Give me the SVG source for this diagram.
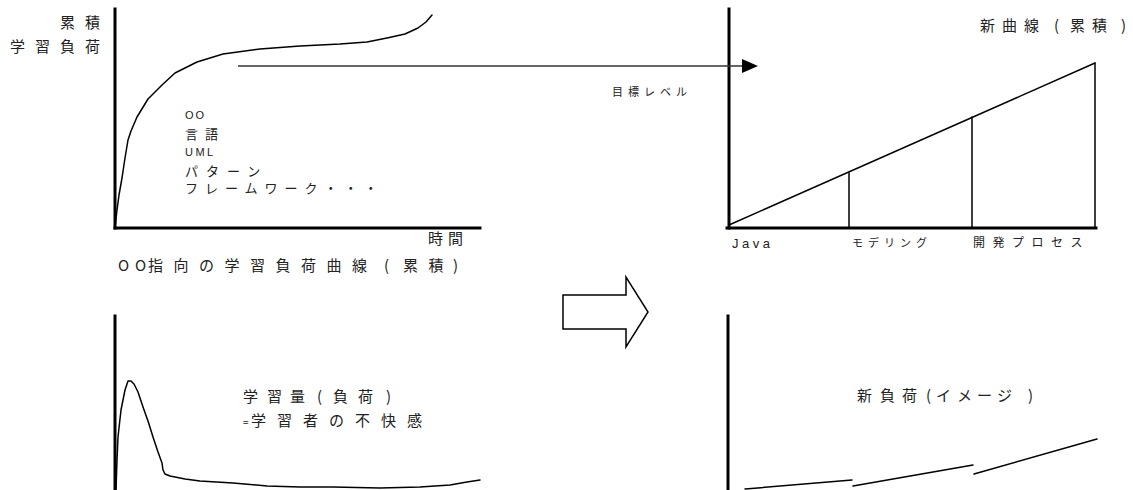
<svg xmlns="http://www.w3.org/2000/svg" width="1133" height="490" viewBox="0 0 1133 490">
<style>
.ax{stroke:#000;stroke-width:3;fill:none;stroke-linecap:square}
.ln{stroke:#000;stroke-width:1.5;fill:none;stroke-linejoin:round;stroke-linecap:round}
.jp{font-family:"Noto Sans CJK JP","Noto Sans",sans-serif;fill:#222}
.lat{font-family:"Liberation Sans","Noto Sans",sans-serif;fill:#222}
</style>
<defs>
<marker id="ah" markerWidth="16" markerHeight="14" refX="0" refY="7" orient="auto" markerUnits="userSpaceOnUse">
<path d="M0,0 L16,7 L0,14 Z" fill="#000"/>
</marker>
</defs>
<rect width="1133" height="490" fill="#fff"/>

<g id="chart-cumulative">
<line class="ax" x1="115" y1="9" x2="115" y2="228"/>
<line class="ax" x1="115" y1="228" x2="480" y2="228"/>
<polyline class="ln" points="115,228 117,210 119,195 122,178 125,158 128,140 131,131 137,117 148,99 162,85 175,73 197,62 223,54 260,49 300,46 340,44 367,42 387,38 405,34 418,28 426,22 432,15"/>
<text class="jp" x="60" y="28" font-size="15" letter-spacing="10">累積</text>
<text class="jp" x="10" y="52" font-size="15" letter-spacing="10">学習負荷</text>
<text class="lat" x="185" y="119" font-size="11" letter-spacing="2">OO</text>
<text class="jp" x="185" y="139" font-size="13" letter-spacing="7">言語</text>
<text class="lat" x="185" y="156" font-size="11" letter-spacing="2.5">UML</text>
<text class="jp" x="185" y="176" font-size="13" letter-spacing="8">パターン</text>
<text class="jp" x="185" y="193" font-size="13" letter-spacing="7">フレームワーク・・・</text>
<text class="jp" x="428" y="244" font-size="15" letter-spacing="5">時間</text>
<text class="jp" x="118 135 148 173.5 199 224.5 250 275.5 301 326.5 352 384 403 428.5 453" y="271" font-size="15">OO指向の学習負荷曲線(累積)</text>
</g>

<g id="chart-load">
<line class="ax" x1="115" y1="316" x2="115" y2="490"/>
<polyline class="ln" points="116,490 117,460 118,437 121,410 125,390 128,381 131,381 134,384 138,392 143,407 148,421 153,437 158,452 162,463 163,470 165,474 170,476 185,479 200,481 233,483 267,486 300,487 333,487 380,488 420,487 450,485 467,482 480,480"/>
<text class="jp" x="243 267 290 317 333 358 386" y="402" font-size="15">学習量(負荷)</text>
<text class="jp" x="243" y="426" font-size="15"><tspan font-size="10">=</tspan><tspan x="251" letter-spacing="11">学習者の不快感</tspan></text>
</g>

<g id="transform-arrow">
<polygon points="563,295 626,295 626,277 648,312 626,347 626,329 563,329" fill="#fff" stroke="#000" stroke-width="1.5"/>
</g>

<g id="chart-new-cumulative">
<line class="ax" x1="729" y1="9" x2="729" y2="228"/>
<line class="ax" x1="727" y1="228" x2="1096" y2="228"/>
<line class="ln" x1="729" y1="225" x2="1095" y2="63"/>
<line class="ln" x1="849" y1="172" x2="849" y2="228"/>
<line class="ln" x1="972" y1="117" x2="972" y2="228"/>
<line class="ln" x1="1095" y1="63" x2="1095" y2="228"/>
<text class="jp" x="980 1002 1024 1054 1070 1092 1121" y="31" font-size="15">新曲線(累積)</text>
<text class="lat" x="732" y="248" font-size="13" letter-spacing="3.5">Java</text>
<text class="jp" x="852" y="247" font-size="11" letter-spacing="5">モデリング</text>
<text class="jp" x="973" y="247" font-size="12" letter-spacing="7.5">開発プロセス</text>
<text class="jp" x="612" y="96" font-size="11" letter-spacing="5">目標レベル</text>
</g>

<g id="chart-new-load">
<line class="ax" x1="728" y1="316" x2="728" y2="490"/>
<line class="ln" x1="745" y1="489" x2="852" y2="480"/>
<line class="ln" x1="853" y1="486" x2="973" y2="465"/>
<line class="ln" x1="974" y1="474" x2="1097" y2="439"/>
<text class="jp" x="857 880 902 926 936 957 977 997 1028" y="401" font-size="15">新負荷(イメージ)</text>
</g>

<g id="connectors">
<line x1="238" y1="66" x2="742" y2="66" stroke="#333" stroke-width="1.5" marker-end="url(#ah)"/>
</g>
</svg>
